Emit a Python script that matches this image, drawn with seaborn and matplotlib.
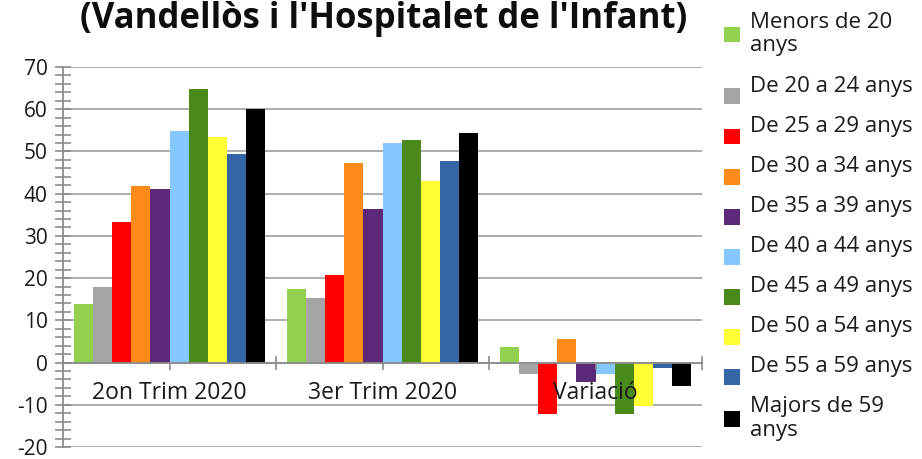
import textwrap
import numpy as np
import pandas as pd
import seaborn as sns
import matplotlib.pyplot as plt
from matplotlib.ticker import MultipleLocator
from matplotlib.legend_handler import HandlerPatch
from matplotlib.patches import Rectangle

periods = ["2on Trim 2020", "3er Trim 2020", "Variació"]
age_groups = [
    "Menors de 20 anys",
    "De 20 a 24 anys",
    "De 25 a 29 anys",
    "De 30 a 34 anys",
    "De 35 a 39 anys",
    "De 40 a 44 anys",
    "De 45 a 49 anys",
    "De 50 a 54 anys",
    "De 55 a 59 anys",
    "Majors de 59 anys",
]
trim2 = [13.8, 18.0, 33.2, 41.7, 41.2, 54.9, 64.8, 53.5, 49.3, 60.0]
trim3 = [17.5, 15.3, 20.8, 47.3, 36.4, 52.0, 52.6, 43.0, 47.8, 54.4]
variacio = [3.7, -2.7, -12.3, 5.6, -4.7, -2.8, -12.2, -10.4, -1.4, -5.6]
colors = ["#92d050", "#a5a5a5", "#ff0000", "#ff8c1a", "#5c2878",
          "#85c8ff", "#4a8a1a", "#ffff33", "#3465a4", "#000000"]

title = "(Vandellòs i l'Hospitalet de l'Infant)"

df = pd.DataFrame({
    "periode": np.repeat(periods, len(age_groups)),
    "edat": age_groups * len(periods),
    "valor": trim2 + trim3 + variacio,
})

sns.set_style("white")
plt.rcParams["font.family"] = ["Open Sans", "DejaVu Sans"]
plt.rcParams["axes.unicode_minus"] = False

grey = "#8c8c8c"
txt = "#1a1a1a"
fs = 16


def low_box(legend, orig_handle, xdescent, ydescent, width, height, fontsize):
    # excel puts the swatch under the text of a one-line entry
    return Rectangle((-xdescent, -ydescent - 0.8 * height), width, height)


fig = plt.figure(figsize=(9.22, 4.59), dpi=100)
ax = fig.add_axes([63 / 922, 12 / 459, (702 - 63) / 922, (447 - 67) / 459])

sns.barplot(data=df, x="periode", y="valor", hue="edat", order=periods,
            hue_order=age_groups, palette=colors, saturation=1, width=0.9,
            linewidth=0, ax=ax)

ax.set_ylim(-20, 70)
ax.set_xlim(-0.5, 2.5)
ax.yaxis.set_major_locator(MultipleLocator(10))
ax.yaxis.set_minor_locator(MultipleLocator(2))
ax.set_xticks([0, 1, 2])
ax.set_xticks([-0.5, 0.5, 1.5, 2.5], minor=True)
ax.grid(axis="y", which="major", color="#a6a6a6", linewidth=1.3)
ax.set_axisbelow(True)
ax.xaxis.set_zorder(3)

for s in ["top", "right"]:
    ax.spines[s].set_visible(False)
ax.spines["left"].set_color(grey)
ax.spines["bottom"].set_color(grey)
ax.spines["bottom"].set_position(("data", 0))
ax.spines["left"].set_linewidth(1.3)
ax.spines["bottom"].set_linewidth(1.3)

ax.tick_params(axis="y", which="both", left=True, direction="inout", length=12,
               width=1.2, color=grey, labelsize=15, labelcolor=txt, pad=5)
ax.tick_params(axis="x", which="major", bottom=True, direction="out", length=5,
               width=1.2, color=grey, labelsize=16.5, labelcolor=txt, pad=8)
ax.tick_params(axis="x", which="minor", bottom=True, direction="inout",
               length=10, width=1.2, color=grey)
ax.set_xlabel("")
ax.set_ylabel("")

handles, labels = ax.get_legend_handles_labels()
ax.get_legend().remove()
wrapped = [textwrap.fill(l, 15) for l in labels]
hmap = {h: HandlerPatch(patch_func=low_box)
        for h, l in zip(handles, wrapped) if "\n" not in l}
leg = fig.legend(handles, wrapped, loc="upper left", handler_map=hmap,
                 bbox_to_anchor=(724 / 922, 1 - 12 / 459), frameon=False,
                 fontsize=fs, handlelength=0.72, handleheight=0.72,
                 handletextpad=0.45, labelspacing=0.86, borderaxespad=0,
                 borderpad=0, labelcolor=txt)
for t in leg.get_texts():
    t.set_linespacing(1.15)

fig.text(384 / 922, 1 - 28 / 459, title, ha="center", va="baseline",
         fontsize=25, fontweight="bold", color="#0d0d0d")

fig.savefig("out.png", dpi=100)
